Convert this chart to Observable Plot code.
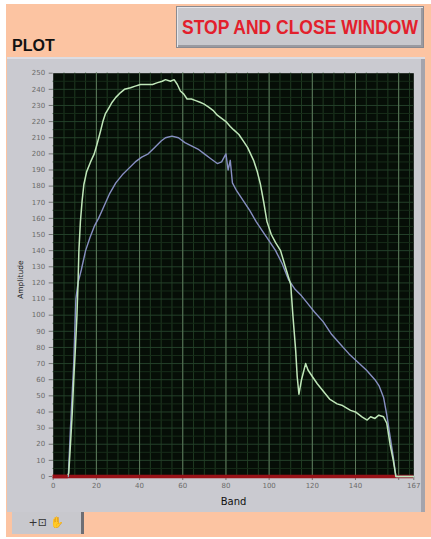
<!DOCTYPE html>
<html><head><meta charset="utf-8">
<script src="https://cdn.jsdelivr.net/npm/d3@7"></script>
<script src="https://cdn.jsdelivr.net/npm/@observablehq/plot@0.6"></script>
<style>
html,body{margin:0;padding:0;background:#fff;width:431px;height:539px;overflow:hidden;}
#panel{position:absolute;left:6px;top:4px;width:425px;height:533px;background:#fcc4a2;}
#btn{position:absolute;left:176px;top:6px;width:246px;height:40px;background:#c8c8cd;border:1px solid #8a8a90;box-shadow:inset 1px 1px 0 #e6e6ea, inset -2px -2px 0 #9a9aa0;font-family:"Liberation Sans",Arial,sans-serif;font-weight:bold;font-size:17.5px;color:#e3202c;text-align:center;line-height:40px;white-space:nowrap;}
#btn span{display:inline-block;transform:scaleY(1.12);}
#title{position:absolute;left:12px;top:37px;font-family:"Liberation Sans",Arial,sans-serif;font-weight:bold;font-size:16px;color:#111;}
#frame{position:absolute;left:7px;top:57px;width:418px;height:455px;background:#cacad0;box-shadow:inset 0 2px 0 #dcdce2, inset -4px 0 0 #a4a4ac;}
#palette{position:absolute;left:12px;top:512px;width:69px;height:22px;background:#c8c8cd;border-right:3px solid #6e6e74;font-family:"DejaVu Sans",sans-serif;font-size:11px;color:#333;line-height:22px;text-align:center;}
</style></head><body>
<div id="panel"></div>
<div id="btn"><span>STOP AND CLOSE WINDOW</span></div>
<div id="title">PLOT</div>
<div id="frame"><div id="chart"></div></div>
<div id="palette">+⊡ ✋</div>
<script>
// Green series (Band vs Amplitude)
const greenBand = [0,6.5,7.2,8,8.8,9.5,10.3,11,11.5,11.9,12.6,13.4,14.2,15.5,17.3,19,20.3,21.9,23,24.2,26,27.3,29,31.2,33,35.8,38,40.4,43,46,48,50.5,52,54.3,56,57.5,58.9,60.5,62,64,66,68,69.7,72,74,76,78,80,82,83.5,86,88,90,92.8,94.5,96,97.5,99,101,103,105.3,107.5,110,111,112.3,113,113.8,115,116.9,118,120,122.3,125,128,131.5,134,137.7,140,143,145.4,147,149,150.8,153,154.5,156,157.5,158.7,167];
const greenAmp  = [0,0,2,20,39,60,80,100,120,140,158,171,181,189,195,200,206,214,220,225,229,232,235,238,240,241,242,243,243,243,244,245,246,245,246,243,239,237,234,234,233,232,231,229,227,224,222,220,217,215,212,208,204,196,189,181,170,158,150,145,140,130,119,100,78,62,51,60,70,66,62,57.5,53,48,45,44,41,40,37,35,37,36,38,37,33,20,10,0,0];
// Blue series
const blueBand = [0,7,8,9.5,10.5,11.5,13,15,17,19,21,23,26,29,32,35,38,41,44,47,50,52,55,58,61,64,67,70,73,76,78,80,81,82,83,85,88,91,94,97,100,103,106,109,112,115,118,121,125,129,133,137,141,145,149,151,153,154.5,156,157.5,158.7,167];
const blueAmp  = [0,0,30,70,110,120,128,140,148,155,160,166,175,182,187,191,195,198,200,204,208,210,211,210,207,205,203,200,197,194,195,200,190,196,182,177,171,165,158,152,146,140,132,122,116,112,107,102,96,88,82,76,71,66,60,56,49,38,25,12,0,0];
// Axis ticks
const xTickLabels = [0,20,40,60,80,100,120,140,167];
const xExtraTicks = [160];
const yTickLabels = d3.range(0,251,10);
const xMajorGrid = [20,40,60,80,100,120,140,160];
const xMinorGrid = d3.range(5,167,5);
const yMajorGrid = d3.range(10,250,10);
const yMinorGrid = d3.range(5,250,10);

const green = greenBand.map((b,i)=>({band:b, amp:greenAmp[i]}));
const blue = blueBand.map((b,i)=>({band:b, amp:blueAmp[i]}));

const chart = Plot.plot({
  width: 418, height: 455,
  marginLeft: 45.7, marginTop: 15.7, marginRight: 11.7, marginBottom: 36,
  style: {background: "transparent", fontFamily: "DejaVu Sans, sans-serif", fontSize: "7px", color: "#6a6a6a", overflow: "visible"},
  x: {domain: [0,167]},
  y: {domain: [0,250]},
  marks: [
    Plot.frame({fill: "#060e07", stroke: null}),
    Plot.gridX(xMinorGrid, {stroke: "#1f3a21", strokeOpacity: 1}),
    Plot.gridY(yMinorGrid, {stroke: "#172c19", strokeOpacity: 1}),
    Plot.gridY(yMajorGrid, {stroke: "#24402a", strokeOpacity: 1}),
    Plot.gridX(xMajorGrid, {stroke: "#5d7a5c", strokeOpacity: 1}),
    Plot.axisX(xTickLabels, {tickSize: 4, tickPadding: 3, label: null, stroke: "#777"}),
    Plot.axisX(xExtraTicks, {tickSize: 4, tickFormat: () => "", label: null, stroke: "#777"}),
    Plot.axisY(yTickLabels, {tickSize: 4, tickPadding: 4, label: null, stroke: "#777"}),
    Plot.text(["Band"], {frameAnchor: "bottom", dy: 28, fontSize: 10, fill: "#111"}),
    Plot.text(["Amplitude"], {frameAnchor: "left", dx: -33, dy: 24, rotate: -90, fontSize: 7.5, fill: "#222"}),
    Plot.ruleY([0], {stroke: "#9a1218", strokeWidth: 3.5}),
    Plot.line(blue, {x: "band", y: "amp", stroke: "#878fc2", strokeWidth: 1.4}),
    Plot.line(green, {x: "band", y: "amp", stroke: "#bfe6b8", strokeWidth: 1.5}),
    Plot.ruleY([0], {x1: 0, x2: 7, stroke: "#9a1218", strokeWidth: 3.5})
  ]
});
document.getElementById("chart").appendChild(chart);
</script>
</body></html>
